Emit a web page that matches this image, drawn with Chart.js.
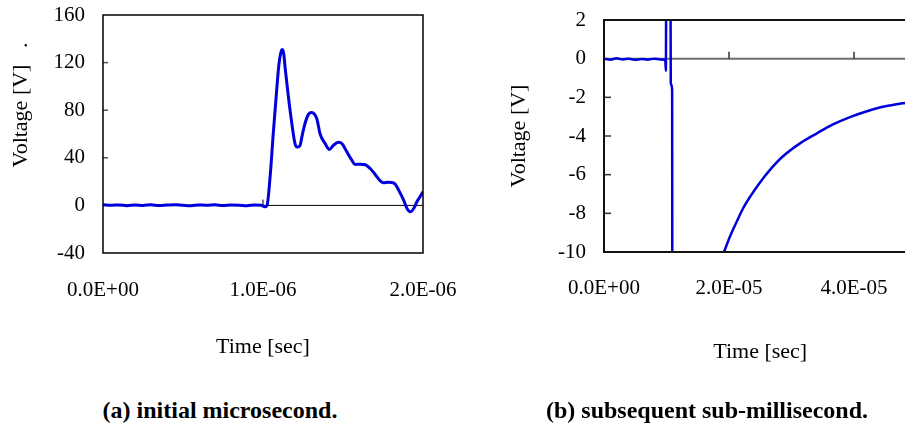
<!DOCTYPE html>
<html><head><meta charset="utf-8">
<script src="https://cdn.jsdelivr.net/npm/chart.js@4.4.1/dist/chart.umd.min.js"></script>
<style>
html,body{margin:0;padding:0;background:#fff;}
body{width:905px;height:427px;overflow:hidden;position:relative;font-family:"Liberation Serif","Times New Roman",serif;color:#000;}
#ca{position:absolute;left:0;top:0;}
#cb{position:absolute;left:450px;top:0;}
.cap{position:absolute;top:396px;font-weight:bold;font-size:24px;line-height:28px;text-align:center;white-space:nowrap;}
</style></head><body>
<canvas id="ca" width="470" height="380"></canvas>
<canvas id="cb" width="480" height="380"></canvas>
<div class="cap" style="left:20px;width:400px">(a) initial microsecond.</div>
<div class="cap" style="left:507px;width:400px">(b) subsequent sub-millisecond.</div>
<script>
// ---- (a) initial microsecond ----
const timeA = [0,0.05e-6,0.10e-6,0.15e-6,0.20e-6,0.25e-6,0.30e-6,0.35e-6,0.40e-6,0.45e-6,0.50e-6,0.55e-6,0.60e-6,0.65e-6,0.70e-6,0.75e-6,0.80e-6,0.85e-6,0.90e-6,0.95e-6,0.99e-6,
  1.010e-6,1.025e-6,1.045e-6,1.065e-6,1.085e-6,1.100e-6,1.115e-6,1.122e-6,1.130e-6,1.138e-6,1.159e-6,1.180e-6,1.200e-6,1.215e-6,1.232e-6,1.242e-6,1.263e-6,1.284e-6,1.305e-6,1.319e-6,1.336e-6,1.357e-6,1.388e-6,1.415e-6,1.440e-6,1.471e-6,1.493e-6,1.524e-6,1.555e-6,1.576e-6,1.610e-6,1.639e-6,1.670e-6,1.701e-6,1.733e-6,1.754e-6,1.780e-6,1.806e-6,1.827e-6,1.848e-6,1.879e-6,1.900e-6,1.921e-6,1.942e-6,1.962e-6,1.994e-6,2.000e-6];
const voltA = [0.5,0.1,0.4,-0.2,0.3,0.0,0.5,-0.1,0.3,0.6,0.1,-0.3,0.4,0.1,0.5,-0.1,0.3,0.2,-0.2,0.4,0.1,
  -1.2,0.0,25,62,96,119,130,131,127,116,91,69,52,49,50.5,57,69,76.5,78,77,73,60,52,47,50.5,53,52,45,38,34.4,34.6,34.2,31,26,20.6,19,19.4,19.2,17.8,12.8,4.4,-2.6,-5.4,-2.6,3,10,11.5];
const xTicksA = [0, 1e-6, 2e-6];
const xTickLabelsA = ['0.0E+00', '1.0E-06', '2.0E-06'];
const yTicksA = [-40, 0, 40, 80, 120, 160];
const yTickLabelsA = ['-40', '0', '40', '80', '120', '160'];

// ---- (b) subsequent sub-millisecond ----
const timeB = [0,1e-6,2e-6,3e-6,4e-6,5e-6,6e-6,7e-6,8e-6,9e-6,9.8e-6,9.9e-6,9.95e-6,1.065e-5,1.068e-5,1.09e-5,1.093e-5,
  1.5e-5,
  1.92e-5,2.016e-5,2.128e-5,2.224e-5,2.336e-5,2.496e-5,2.656e-5,2.864e-5,3.136e-5,3.408e-5,3.664e-5,3.936e-5,4.208e-5,4.464e-5,4.816e-5,5.0e-5];
const voltB = [0.0,-0.05,0.02,-0.04,0.0,-0.06,-0.02,-0.05,0.0,-0.04,-0.05,-0.62,3,3,-1.26,-1.6,-12,
  null,
  -10.0,-9.2,-8.4,-7.75,-7.15,-6.4,-5.75,-5.05,-4.38,-3.86,-3.40,-3.02,-2.72,-2.49,-2.29,-2.21];
const xTicksB = [0, 2e-5, 4e-5];
const xTickLabelsB = ['0.0E+00', '2.0E-05', '4.0E-05'];
const yTicksB = [-10, -8, -6, -4, -2, 0, 2];
const yTickLabelsB = ['-10', '-8', '-6', '-4', '-2', '0', '2'];

const FAM = "'Liberation Serif','Times New Roman',serif";
Chart.defaults.font.family = FAM;
Chart.defaults.color = '#000';

const framePlugin = {
  id: 'frame',
  beforeDatasetsDraw(chart, args, o) {
    const {ctx, chartArea: a, scales: {x, y}} = chart;
    const y0 = y.getPixelForValue(0);
    ctx.save();
    ctx.strokeStyle = o.zeroColor; ctx.lineWidth = o.zeroWidth;
    ctx.beginPath(); ctx.moveTo(a.left, y0); ctx.lineTo(a.right, y0); ctx.stroke();
    ctx.strokeStyle = o.tickColor; ctx.lineWidth = 1.5;
    o.xTicks.forEach(v => { const px = x.getPixelForValue(v); ctx.beginPath(); ctx.moveTo(px, y0); ctx.lineTo(px, y0 - o.xTickLen); ctx.stroke(); });
    o.yTicks.forEach(v => { const py = y.getPixelForValue(v); ctx.beginPath(); ctx.moveTo(a.left, py); ctx.lineTo(a.left + o.yTickLen, py); ctx.stroke(); });
    ctx.restore();
  },
  afterDatasetsDraw(chart, args, o) {
    const {ctx, chartArea: a} = chart;
    ctx.save();
    ctx.strokeStyle = o.frameColor; ctx.lineWidth = o.frameWidth;
    ctx.strokeRect(a.left, a.top, a.right - a.left, a.bottom - a.top);
    if (o.yTitle) {
      ctx.translate(o.yTitleX, o.yTitleY);
      ctx.rotate(-Math.PI / 2);
      ctx.fillStyle = '#000';
      ctx.font = '22px ' + FAM;
      ctx.textAlign = 'center'; ctx.textBaseline = 'middle';
      ctx.fillText(o.yTitle, 0, 0);
    }
    ctx.restore();
  }
};

function makeChart(id, t, v, cfg) {
  return new Chart(document.getElementById(id), {
    type: 'line',
    data: { datasets: [{ data: t.map((tt, i) => ({x: tt, y: v[i]})), borderColor: '#0000dc', borderWidth: cfg.lw,
      pointRadius: 0, cubicInterpolationMode: 'monotone', spanGaps: false, fill: false }] },
    options: {
      responsive: false, animation: false, devicePixelRatio: 1,
      layout: { padding: { left: 0, top: cfg.top, right: cfg.padRight, bottom: 0 } },
      plugins: { legend: { display: false }, tooltip: { enabled: false }, frame: cfg.frame },
      scales: {
        x: {
          type: 'linear', min: cfg.xmin, max: cfg.xmax,
          afterFit(s) { s.height = cfg.xH; s.paddingLeft = 0; s.paddingRight = 0; },
          afterBuildTicks(s) { s.ticks = cfg.xTicks.map(val => ({value: val})); },
          grid: { display: false, drawTicks: false }, border: { display: false },
          ticks: { padding: cfg.xPad, maxRotation: 0, autoSkip: false, font: { size: 21 }, color: '#000',
            callback: (val, i) => cfg.xLabels[i] },
          title: { display: true, text: 'Time [sec]', color: '#000', font: { size: 22 }, padding: { top: 0, bottom: cfg.xTitlePad } }
        },
        y: {
          type: 'linear', min: cfg.ymin, max: cfg.ymax,
          afterFit(s) { s.width = cfg.yW; s.paddingTop = 0; s.paddingBottom = 0; },
          afterBuildTicks(s) { s.ticks = cfg.yTicks.map(val => ({value: val})); },
          grid: { display: false, drawTicks: false }, border: { display: false },
          ticks: { padding: 18, autoSkip: false, font: { size: 21 }, color: '#000',
            callback: (val, i) => cfg.yLabels[i] },
          title: cfg.yTitle
        }
      }
    },
    plugins: [framePlugin]
  });
}

makeChart('ca', timeA, voltA, {
  lw: 3, top: 15, padRight: 47, xmin: 0, xmax: 2e-6, ymin: -40, ymax: 160,
  xH: 127, yW: 103, xPad: 24.4, xTitlePad: 19.8,
  xTicks: xTicksA, xLabels: xTickLabelsA, yTicks: yTicksA, yLabels: yTickLabelsA,
  yTitle: { display: false },
  frame: { zeroColor: '#000', zeroWidth: 1, tickColor: '#555', xTicks: [1e-6], xTickLen: 6,
    yTicks: [40, 80, 120], yTickLen: 5, frameColor: '#000', frameWidth: 1.5,
    yTitle: 'Voltage [V]   .', yTitleX: 21, yTitleY: 105 }
});

makeChart('cb', timeB, voltB, {
  lw: 2.5, top: 20, padRight: 13.5, xmin: 0, xmax: 5e-5, ymin: -10, ymax: 2,
  xH: 128, yW: 154, xPad: 23.4, xTitlePad: 14.8,
  xTicks: xTicksB, xLabels: xTickLabelsB, yTicks: yTicksB, yLabels: yTickLabelsB,
  yTitle: { display: true, text: 'Voltage [V]', color: '#000', font: { size: 22 }, padding: { top: 55.8, bottom: 0 } },
  frame: { zeroColor: '#6e6e6e', zeroWidth: 2, tickColor: '#333', xTicks: [2e-5, 4e-5], xTickLen: 7,
    yTicks: [-2, -4, -6, -8], yTickLen: 7, frameColor: '#111', frameWidth: 2 }
});
</script>
</body></html>
